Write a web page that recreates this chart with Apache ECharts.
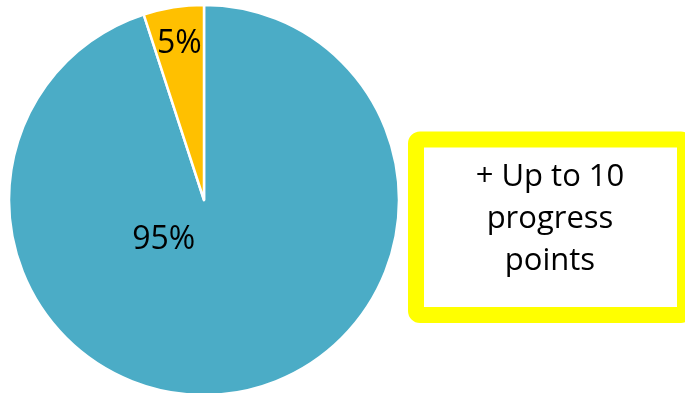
<!DOCTYPE html>
<html>
<head>
<meta charset="utf-8">
<script src="https://cdn.jsdelivr.net/npm/echarts@6/dist/echarts.min.js"></script>
<style>
  html, body { margin: 0; padding: 0; background: #ffffff; }
  #chart { width: 685px; height: 393px; }
</style>
</head>
<body>
<div id="chart"></div>
<script>
// Share of the pie, in percent
const categories = ['Main', 'Other'];
const values = [95, 5];
const sliceColors = ['#4BACC6', '#FFC000'];
const noteText = '+ Up to 10\nprogress\npoints';

// Nudges for each slice label, relative to its default inner spot
const labelShift = [
  { dx: -56, dy: -59 },
  { dx: -9, dy: -57 }
];

const chart = echarts.init(document.getElementById('chart'), null, { renderer: 'canvas' });

chart.setOption({
  animation: false,
  series: [{
    type: 'pie',
    center: [204, 200],
    radius: [0, 195],
    startAngle: 90,
    clockwise: true,
    silent: true,
    itemStyle: { borderColor: '#ffffff', borderWidth: 2.5 },
    label: {
      show: true,
      position: 'inside',
      formatter: p => p.value + '%',
      fontFamily: 'Open Sans',
      fontSize: 32,
      color: '#000000'
    },
    labelLine: { show: false },
    labelLayout: p => labelShift[p.dataIndex],
    data: categories.map((c, i) => ({
      name: c,
      value: values[i],
      itemStyle: { color: sliceColors[i] }
    }))
  }],
  graphic: [
    {
      type: 'rect',
      shape: { x: 416, y: 139.5, width: 269, height: 175.5, r: 4 },
      style: { fill: '#ffffff', stroke: '#FFFF00', lineWidth: 16 }
    },
    {
      type: 'text',
      x: 550,
      y: 219,
      style: {
        text: noteText,
        fontFamily: 'Open Sans',
        fontSize: 31,
        lineHeight: 42,
        fill: '#000000',
        align: 'center',
        verticalAlign: 'middle'
      }
    }
  ]
});
</script>
</body>
</html>
